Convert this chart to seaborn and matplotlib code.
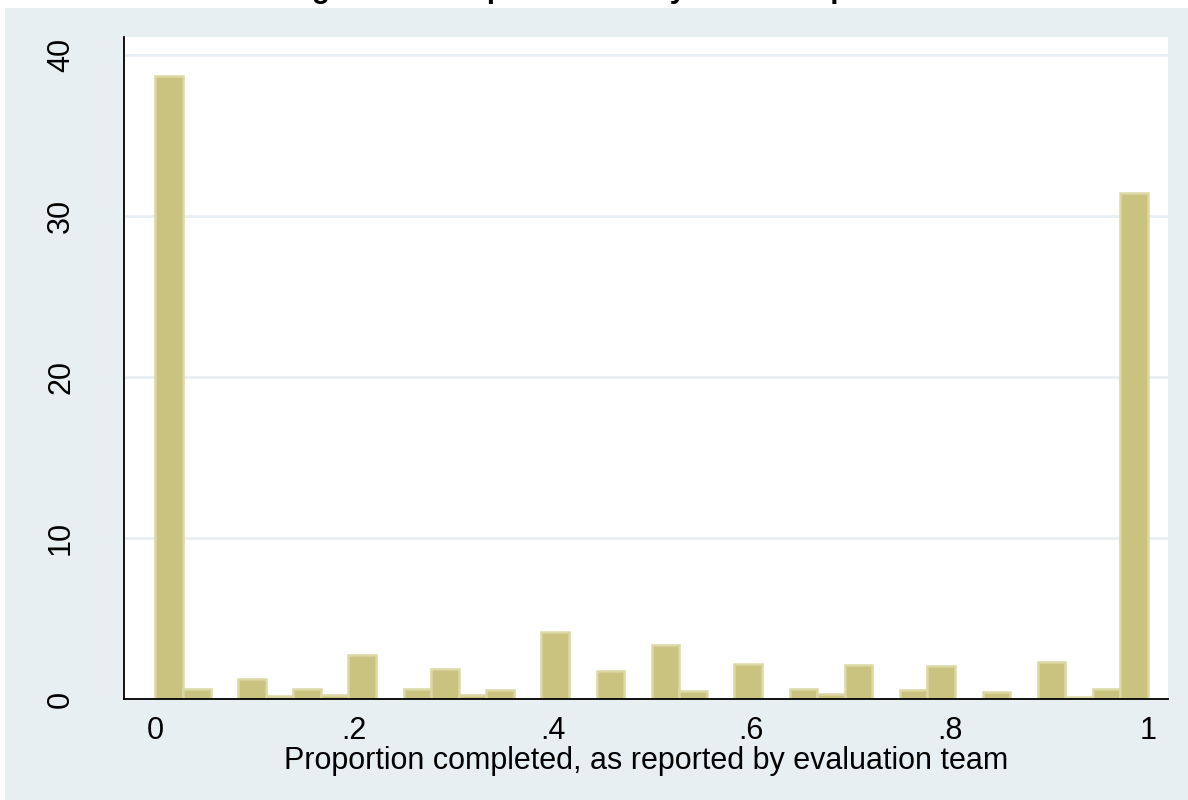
import numpy as np
import pandas as pd
import seaborn as sns
import matplotlib
matplotlib.use("Agg")
import matplotlib.pyplot as plt
from matplotlib.patches import Rectangle

# Percent of projects in each of 36 equal-width bins over [0, 1]
n_bins = 36
percent = [
    38.65, 0.60, 0.03, 1.26, 0.17, 0.64, 0.25, 2.71, 0.03, 0.60,
    1.88, 0.25, 0.56, 0.00, 4.16, 0.03, 1.76, 0.00, 3.33, 0.52,
    0.00, 2.17, 0.03, 0.64, 0.31, 2.13, 0.00, 0.56, 2.07, 0.00,
    0.43, 0.03, 2.32, 0.14, 0.64, 31.43,
]
x_ticks = [0, 0.2, 0.4, 0.6, 0.8, 1.0]
x_tick_labels = ["0", ".2", ".4", ".6", ".8", "1"]
y_ticks = [0, 10, 20, 30, 40]
y_tick_labels = ["0", "10", "20", "30", "40"]
title = "Histogram of completion rate by state and phase"
x_label = "Proportion completed, as reported by evaluation team"

edges = np.linspace(0, 1, n_bins + 1)
df = pd.DataFrame({
    "proportion": (edges[:-1] + edges[1:]) / 2,
    "percent": percent,
})

BG = "#e8eff2"
FILL = "#cac37f"
EDGE = "#dcd8a4"

sns.set_style("white")
plt.rcParams["font.family"] = ["Liberation Sans", "DejaVu Sans"]

fig = plt.figure(figsize=(11.88, 8.0), dpi=100, facecolor="white")
# outer graph region
fig.patches.append(Rectangle((5 / 1188, 0), 1 - 5 / 1188, 1 - 8 / 800,
                             transform=fig.transFigure, facecolor=BG,
                             edgecolor="none", zorder=-10))

ax = fig.add_axes([124 / 1188, 1 - 699 / 800, (1168 - 124) / 1188, (699 - 37) / 800])
ax.set_facecolor("white")

sns.histplot(data=df, x="proportion", weights="percent", bins=n_bins,
             binrange=(0, 1), stat="count", color=FILL, alpha=1,
             edgecolor=EDGE, linewidth=1.8, ax=ax)

ax.set_xlim(-0.0317, 1.0201)
ax.set_ylim(0, 41.1)
ax.set_xticks(x_ticks)
ax.set_xticklabels(x_tick_labels)
ax.set_yticks(y_ticks)
ax.set_yticklabels(y_tick_labels, rotation=90, va="center")

for y in y_ticks[1:]:
    ax.axhline(y, color=BG, linewidth=2.0, zorder=0)
ax.grid(False)

for side in ["top", "right"]:
    ax.spines[side].set_visible(False)
for side in ["left", "bottom"]:
    ax.spines[side].set_color("black")
    ax.spines[side].set_linewidth(1.3)

ax.tick_params(axis="both", which="major", direction="out", length=9.5,
               width=1.1, color="black", labelsize=22, labelcolor="black")
ax.tick_params(axis="y", pad=25)
ax.tick_params(axis="x", pad=3)

ax.set_xlabel(x_label, fontsize=22, labelpad=0, color="black")
ax.set_ylabel("")

# graph title sits at the very top edge of the canvas
fig.text(577 / 1188, 1.0 + 2.5 / 800, title, ha="center", va="baseline",
         fontsize=21, fontweight="bold", color="black")

fig.savefig("out.png", dpi=100, facecolor=fig.get_facecolor())
